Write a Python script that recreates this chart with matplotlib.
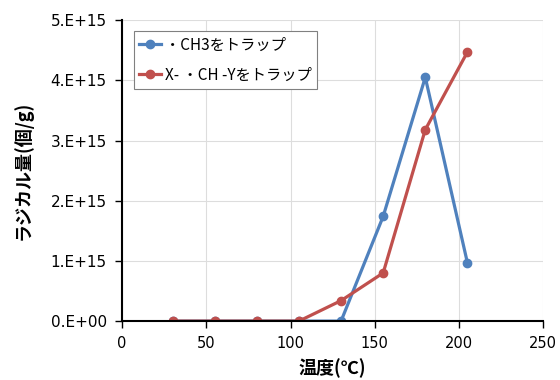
# -*- coding: utf-8 -*-
"""温度とラジカル量の折れ線グラフ"""

import matplotlib
matplotlib.use("Agg")
import matplotlib.pyplot as plt

plt.rcParams['font.family'] = ['Noto Sans CJK JP', 'DejaVu Sans']

temps = [30, 55, 80, 105, 130, 155, 180, 205]
ch3 = [0, 0, 0, 0, 0, 1.74e15, 4.05e15, 0.97e15]
xchy = [0, 0, 0, 0, 0.34e15, 0.80e15, 3.18e15, 4.47e15]

x_ticks = [0, 50, 100, 150, 200, 250]
y_ticks = [0, 1e15, 2e15, 3e15, 4e15, 5e15]
y_labels = ["0.E+00", "1.E+15", "2.E+15", "3.E+15", "4.E+15", "5.E+15"]

fig = plt.figure(figsize=(5.6, 3.8), dpi=100)
ax = fig.add_axes([0.218, 0.155, 0.752, 0.792])

ax.plot(temps, ch3, color='#4F81BD', lw=2.3, marker='o', ms=6,
        label='・CH3をトラップ')
ax.plot(temps, xchy, color='#C0504D', lw=2.3, marker='o', ms=6,
        label='X- ・CH -Yをトラップ')

ax.set_xlim(0, 250)
ax.set_ylim(0, 5e15)
ax.set_xticks(x_ticks)
ax.set_yticks(y_ticks)
ax.set_yticklabels(y_labels)
ax.tick_params(length=5, width=1, direction='out', pad=6,
               labelsize=10.5, labelfontfamily='DejaVu Sans')
ax.tick_params(axis='y', labelsize=11)

ax.grid(True, color='#dddddd', lw=0.8)
ax.set_axisbelow(True)
for s in ['top', 'right']:
    ax.spines[s].set_visible(False)
for s in ['left', 'bottom']:
    ax.spines[s].set_linewidth(1.5)

ax.set_xlabel("温度(℃)", fontsize=13, fontweight='bold', labelpad=5)
ax.set_ylabel("ラジカル量(個/g)", fontsize=13, fontweight='bold', labelpad=13)

leg = ax.legend(loc='upper left', bbox_to_anchor=(0.028, 0.963), fontsize=11,
                fancybox=False, framealpha=1, edgecolor='#808080',
                handlelength=1.4, handletextpad=0.3, borderpad=0.35,
                labelspacing=0.85, borderaxespad=0)
leg.get_frame().set_linewidth(0.8)

plt.savefig("out.png", dpi=100)
